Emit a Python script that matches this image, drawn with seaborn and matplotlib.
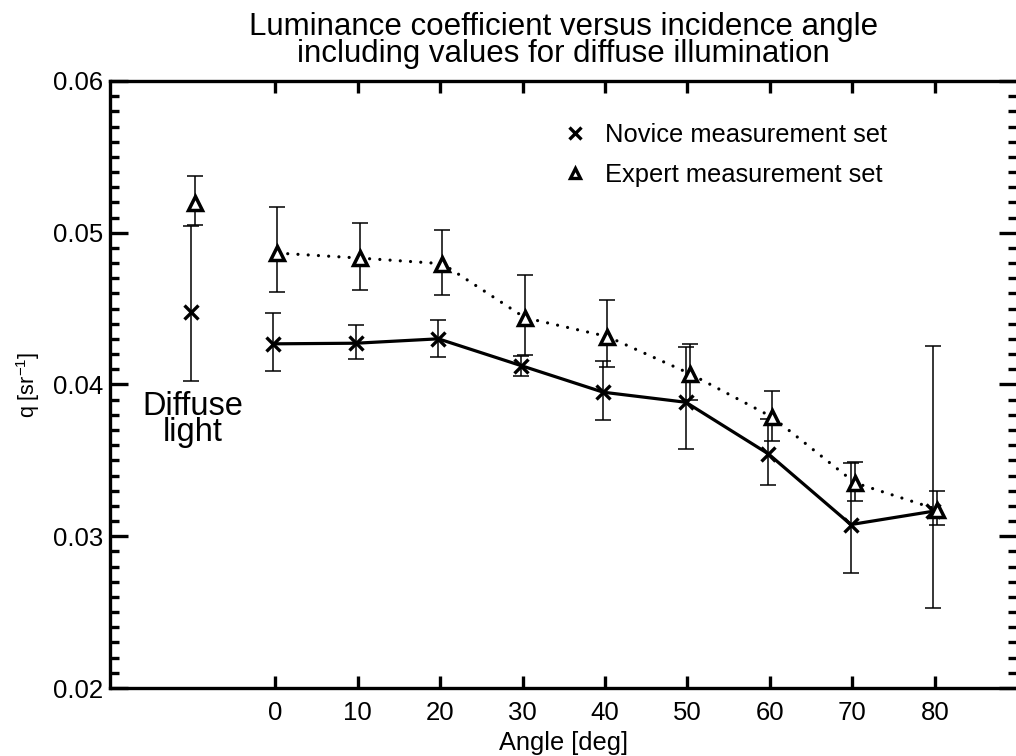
import numpy as np
import pandas as pd
import matplotlib
matplotlib.use("Agg")
import matplotlib.pyplot as plt
from matplotlib.ticker import MultipleLocator, FormatStrFormatter
from matplotlib.lines import Line2D
import seaborn as sns

# ---------------- data ----------------
angles = [0, 10, 20, 30, 40, 50, 60, 70, 80]
diffuse_pos = -10  # where the diffuse-light values are shown on the angle axis

novice_q = [0.04268, 0.04272, 0.04301, 0.04125, 0.03949, 0.03883, 0.03543, 0.03077, 0.03165]
novice_lo = [0.04090, 0.04165, 0.04180, 0.04055, 0.03769, 0.03576, 0.03339, 0.02756, 0.02528]
novice_hi = [0.04470, 0.04391, 0.04422, 0.04185, 0.04154, 0.04246, 0.03774, 0.03481, 0.04252]
novice_diffuse = 0.04477
novice_diffuse_lo = 0.04026
novice_diffuse_hi = 0.05042

expert_q = [0.04866, 0.04833, 0.04796, 0.04440, 0.04316, 0.04071, 0.03784, 0.03352, 0.03176]
expert_lo = [0.04608, 0.04626, 0.04587, 0.04196, 0.04114, 0.03895, 0.03626, 0.03229, 0.03077]
expert_hi = [0.05169, 0.05063, 0.05015, 0.04719, 0.04554, 0.04268, 0.03954, 0.03488, 0.03297]
expert_diffuse = 0.05195
expert_diffuse_lo = 0.05048
expert_diffuse_hi = 0.05371

series_names = ["Novice measurement set", "Expert measurement set"]
title_text = "Luminance coefficient versus incidence angle\nincluding values for diffuse illumination"
xlabel_text = "Angle [deg]"
ylabel_text = "q [sr$^{-1}$]"
diffuse_label = "Diffuse\nlight"

# ---------------- style ----------------
sns.set_style("white")
plt.rcParams["font.family"] = ["Liberation Sans", "DejaVu Sans"]
plt.rcParams["mathtext.default"] = "regular"
plt.rcParams["text.color"] = "black"
plt.rcParams["axes.labelcolor"] = "black"
plt.rcParams["xtick.color"] = "black"
plt.rcParams["ytick.color"] = "black"

NOV_OFF = -0.2
EXP_OFF = 0.3

fig = plt.figure(figsize=(10.16, 7.56), dpi=100)
ax = fig.add_axes([110 / 1016, 68 / 756, 907.5 / 1016, 607 / 756])

# connecting lines (seaborn)
df_nov = pd.DataFrame({"angle": np.array(angles) + NOV_OFF, "q": novice_q})
df_exp = pd.DataFrame({"angle": np.array(angles) + EXP_OFF, "q": expert_q})
sns.lineplot(data=df_nov, x="angle", y="q", ax=ax, color="black", lw=2.3,
             estimator=None, sort=True, zorder=2)
sns.lineplot(data=df_exp, x="angle", y="q", ax=ax, color="black", lw=2.3,
             estimator=None, sort=True, zorder=2)
ax.lines[1].set_dashes((0.01, 3.2))
ax.lines[1].set_dash_capstyle("round")

# error bars and markers
def draw(xs, ys, lo, hi, marker, off):
    xs = np.asarray(xs, dtype=float) + off
    ys = np.asarray(ys)
    yerr = [ys - np.asarray(lo), np.asarray(hi) - ys]
    ax.errorbar(xs, ys, yerr=yerr, fmt="none", ecolor="black", elinewidth=1.1,
                capsize=5.8, capthick=1.1, zorder=3)
    if marker == "x":
        ax.plot(xs, ys, ls="none", marker="x", ms=9.5, mew=2.4, color="black", zorder=4)
    else:
        ax.plot(xs, ys, ls="none", marker="^", ms=10, mew=2.5, mec="black",
                mfc="white", zorder=4)

draw(angles, novice_q, novice_lo, novice_hi, "x", NOV_OFF)
draw([diffuse_pos], [novice_diffuse], [novice_diffuse_lo], [novice_diffuse_hi], "x", NOV_OFF)
draw(angles, expert_q, expert_lo, expert_hi, "^", EXP_OFF)
draw([diffuse_pos], [expert_diffuse], [expert_diffuse_lo], [expert_diffuse_hi], "^", EXP_OFF)

ax.text(diffuse_pos, 0.0396, diffuse_label, ha="center", va="top", fontsize=23.5,
        linespacing=0.8, color="black")

# axes
ax.set_xlim(-20, 90)
ax.set_ylim(0.02, 0.06)
ax.set_xticks(angles)
ax.yaxis.set_major_locator(MultipleLocator(0.01))
ax.yaxis.set_minor_locator(MultipleLocator(0.001))
ax.yaxis.set_major_formatter(FormatStrFormatter("%.2f"))
for s in ["left", "top", "bottom"]:
    ax.spines[s].set_linewidth(2.4)
    ax.spines[s].set_color("black")
ax.spines["right"].set_visible(False)

ax.tick_params(axis="x", which="major", direction="in", length=8.6, width=2.4,
               top=True, bottom=True, labelsize=18.5, pad=9, colors="black")
ax.tick_params(axis="y", which="major", direction="in", length=13, width=2.4,
               left=True, right=True, labelsize=18.5, pad=5, colors="black")
ax.tick_params(axis="y", which="minor", direction="in", length=6.5, width=2.4,
               left=True, right=True, colors="black")

ax.set_xlabel(xlabel_text, fontsize=18.3, labelpad=5, color="black")
ax.set_ylabel(ylabel_text, fontsize=15.5, labelpad=8, color="black")
ax.set_title(title_text, fontsize=22.5, linespacing=0.85, pad=14, color="black")

handles = [Line2D([], [], ls="none", marker="x", ms=8, mew=2.4, color="black"),
           Line2D([], [], ls="none", marker="^", ms=7.5, mew=2.4, mec="black", mfc="white")]
leg = ax.legend(handles, series_names, loc="upper left", bbox_to_anchor=(0.487, 0.947),
                frameon=False, fontsize=18.4, handlelength=1.0, handletextpad=0.68,
                labelspacing=0.62, borderaxespad=0)
for t in leg.get_texts():
    t.set_color("black")

fig.savefig("out.png", dpi=100)
